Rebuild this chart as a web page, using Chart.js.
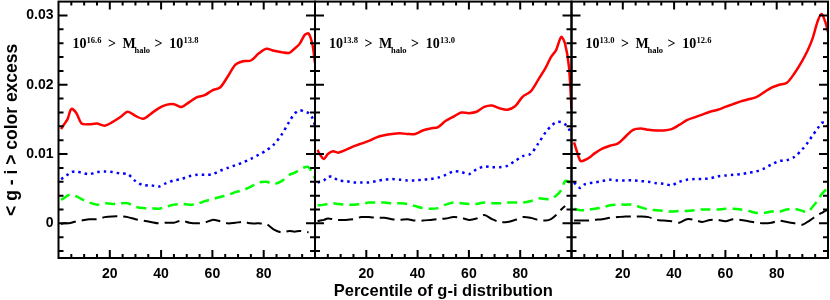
<!DOCTYPE html>
<html>
<head>
<meta charset="utf-8">
<script src="https://cdn.jsdelivr.net/npm/chart.js@4.4.1/dist/chart.umd.min.js"></script>
<style>
  html, body { margin: 0; padding: 0; background: #fff; }
  #wrap { position: relative; width: 830px; height: 300px; }
  #wrap canvas { position: absolute; left: 0; top: 0; }
</style>
</head>
<body>
<div id="wrap">
  <canvas id="panel1" width="830" height="300"></canvas>
  <canvas id="panel2" width="830" height="300"></canvas>
  <canvas id="panel3" width="830" height="300"></canvas>
</div>
<script>
// percentile grid shared by every curve
const pct = [1, 2, 3.5, 5, 7, 9, 12, 15, 18, 21, 24, 27, 30, 33, 36, 39, 42, 45, 48, 51,
  54, 57, 60, 63, 66, 69, 72, 75, 78, 81, 84, 87, 90, 92, 94, 96, 97.5, 99, 100];

const xTickLabels = [20, 40, 60, 80];
const yTickLabels = [0, 0.01, 0.02, 0.03];

// panel 1 : 10^16.6 > Mhalo > 10^13.8
const p1Red = [0.0136, 0.0142, 0.0150, 0.0165, 0.0159, 0.0144, 0.0143, 0.0144, 0.0141, 0.0146,
  0.0153, 0.0161, 0.0155, 0.0151, 0.0158, 0.0166, 0.0171, 0.0172, 0.0168, 0.0175,
  0.0182, 0.0185, 0.0192, 0.0196, 0.0212, 0.0229, 0.0234, 0.0235, 0.0245, 0.0252,
  0.0249, 0.0247, 0.0246, 0.0252, 0.0259, 0.0272, 0.0274, 0.0258, 0.0231];
const p1Blue = [0.0064, 0.0066, 0.0070, 0.0074, 0.0075, 0.0073, 0.0071, 0.0074, 0.0075, 0.0074,
  0.0072, 0.0071, 0.0061, 0.0055, 0.0055, 0.0053, 0.0058, 0.0062, 0.0064, 0.0068,
  0.0070, 0.0070, 0.0071, 0.0076, 0.0080, 0.0084, 0.0088, 0.0093, 0.0099, 0.0105,
  0.0114, 0.0128, 0.0147, 0.0158, 0.0163, 0.0161, 0.0159, 0.0152, 0.0141];
const p1Green = [0.0034, 0.0036, 0.0040, 0.0042, 0.0039, 0.0035, 0.0030, 0.0027, 0.0029, 0.0028,
  0.0029, 0.0029, 0.0024, 0.0022, 0.0022, 0.0021, 0.0024, 0.0027, 0.0028, 0.0027,
  0.0028, 0.0032, 0.0035, 0.0038, 0.0041, 0.0045, 0.0048, 0.0053, 0.0059, 0.0060,
  0.0057, 0.0061, 0.0070, 0.0073, 0.0077, 0.0081, 0.0081, 0.0072, 0.0065];
const p1Black = [-0.0001, 0.0000, 0.0000, 0.0001, 0.0003, 0.0004, 0.0006, 0.0006, 0.0009, 0.0010,
  0.0010, 0.0009, 0.0006, 0.0004, 0.0002, 0.0000, 0.0001, 0.0001, 0.0004, 0.0001,
  0.0000, 0.0001, 0.0005, 0.0003, 0.0000, 0.0001, 0.0002, 0.0000, 0.0000, -0.0001,
  -0.0009, -0.0013, -0.0011, -0.0012, -0.0011, -0.0012, -0.0013, null, null];

// panel 2 : 10^13.8 > Mhalo > 10^13.0
const p2Red = [0.0106, 0.0099, 0.0093, 0.0100, 0.0104, 0.0102, 0.0106, 0.0111, 0.0115, 0.0119,
  0.0124, 0.0127, 0.0129, 0.0130, 0.0129, 0.0129, 0.0134, 0.0137, 0.0139, 0.0148,
  0.0154, 0.0160, 0.0159, 0.0161, 0.0168, 0.0170, 0.0166, 0.0164, 0.0169, 0.0183,
  0.0190, 0.0207, 0.0225, 0.0240, 0.0250, 0.0269, 0.0259, 0.0226, 0.0165];
const p2Blue = [0.0059, 0.0060, 0.0062, 0.0067, 0.0067, 0.0062, 0.0061, 0.0059, 0.0059, 0.0059,
  0.0061, 0.0063, 0.0064, 0.0063, 0.0062, 0.0062, 0.0063, 0.0064, 0.0066, 0.0070,
  0.0075, 0.0074, 0.0071, 0.0078, 0.0082, 0.0081, 0.0081, 0.0083, 0.0090, 0.0097,
  0.0100, 0.0115, 0.0132, 0.0140, 0.0146, 0.0146, 0.0143, 0.0136, 0.0128];
const p2Green = [0.0026, 0.0026, 0.0027, 0.0028, 0.0029, 0.0028, 0.0027, 0.0027, 0.0028, 0.0030,
  0.0030, 0.0030, 0.0029, 0.0029, 0.0028, 0.0025, 0.0022, 0.0021, 0.0022, 0.0027,
  0.0030, 0.0029, 0.0028, 0.0028, 0.0030, 0.0029, 0.0029, 0.0030, 0.0030, 0.0030,
  0.0032, 0.0036, 0.0035, 0.0035, 0.0040, 0.0048, 0.0061, 0.0060, 0.0050];
const p2Black = [0.0003, 0.0004, 0.0005, 0.0007, 0.0006, 0.0005, 0.0005, 0.0006, 0.0009, 0.0009,
  0.0008, 0.0008, 0.0006, 0.0005, 0.0006, 0.0004, 0.0004, 0.0005, 0.0006, 0.0007,
  0.0009, 0.0008, 0.0005, 0.0007, 0.0012, 0.0006, 0.0002, 0.0002, 0.0005, 0.0009,
  0.0008, 0.0005, 0.0004, 0.0006, 0.0012, 0.0020, 0.0025, null, null];

// panel 3 : 10^13.0 > Mhalo > 10^12.6
const p3Red = [0.0117, 0.0105, 0.0090, 0.0091, 0.0095, 0.0101, 0.0108, 0.0112, 0.0115, 0.0125,
  0.0135, 0.0137, 0.0135, 0.0134, 0.0134, 0.0136, 0.0142, 0.0149, 0.0153, 0.0157,
  0.0161, 0.0164, 0.0168, 0.0172, 0.0176, 0.0179, 0.0182, 0.0189, 0.0196, 0.0200,
  0.0203, 0.0217, 0.0235, 0.0249, 0.0267, 0.0292, 0.0302, 0.0290, 0.0276];
const p3Blue = [0.0059, 0.0055, 0.0051, 0.0056, 0.0058, 0.0059, 0.0061, 0.0063, 0.0062, 0.0062,
  0.0062, 0.0061, 0.0060, 0.0058, 0.0057, 0.0055, 0.0060, 0.0063, 0.0064, 0.0064,
  0.0065, 0.0068, 0.0069, 0.0070, 0.0071, 0.0073, 0.0075, 0.0079, 0.0085, 0.0090,
  0.0091, 0.0096, 0.0107, 0.0116, 0.0127, 0.0137, 0.0145, 0.0145, 0.0140];
const p3Green = [0.0021, 0.0020, 0.0019, 0.0019, 0.0020, 0.0021, 0.0023, 0.0026, 0.0027, 0.0027,
  0.0027, 0.0023, 0.0020, 0.0019, 0.0018, 0.0017, 0.0018, 0.0018, 0.0019, 0.0020,
  0.0020, 0.0020, 0.0021, 0.0021, 0.0020, 0.0018, 0.0015, 0.0015, 0.0017, 0.0017,
  0.0020, 0.0021, 0.0018, 0.0016, 0.0024, 0.0033, 0.0042, 0.0048, 0.0052];
const p3Black = [0.0004, 0.0004, 0.0004, 0.0004, 0.0004, 0.0005, 0.0006, 0.0008, 0.0009, 0.0010,
  0.0010, 0.0010, 0.0009, 0.0005, 0.0004, 0.0003, 0.0001, 0.0006, 0.0005, 0.0002,
  0.0005, 0.0005, 0.0003, 0.0006, 0.0005, 0.0003, 0.0001, 0.0000, 0.0001, 0.0004,
  0.0002, 0.0000, -0.0002, 0.0002, 0.0007, 0.0012, 0.0015, 0.0018, 0.0019];

const AREA_TOP = 1.6;
const AREA_BOTTOM = 258;
const tickFont = { family: '"Liberation Sans", Arial, sans-serif', size: 14, weight: 'bold' };
const xTitleFont = { family: '"Liberation Sans", Arial, sans-serif', size: 16.5, weight: 'bold' };
const yTitleFont = { family: '"Liberation Sans", Arial, sans-serif', size: 17.5, weight: 'bold' };

function pts(vals) {
  return pct.map((p, i) => ({ x: p, y: vals[i] }));
}

// box around the plot with inward ticks on all four sides
const framePlugin = {
  id: 'frame',
  afterDatasetsDraw(chart) {
    const { ctx, chartArea: a, scales: { x, y } } = chart;
    ctx.save();
    ctx.strokeStyle = '#000';
    ctx.lineWidth = 2;
    ctx.strokeRect(a.left, a.top, a.right - a.left, a.bottom - a.top);
    ctx.beginPath();
    for (let i = -2; i <= 15; i++) {
      const py = y.getPixelForValue(i * 0.002);
      const len = i % 5 === 0 ? 9 : 5;
      ctx.moveTo(a.left, py); ctx.lineTo(a.left + len, py);
      ctx.moveTo(a.right, py); ctx.lineTo(a.right - len, py);
    }
    for (let i = 1; i <= 19; i++) {
      const v = i * 5;
      const px = x.getPixelForValue(v);
      const len = v % 20 === 0 ? 8 : 4;
      ctx.moveTo(px, a.bottom); ctx.lineTo(px, a.bottom - len);
      ctx.moveTo(px, a.top); ctx.lineTo(px, a.top + len);
    }
    ctx.stroke();
    ctx.restore();
  }
};

// "10^a > M_halo > 10^b" label in the upper left of each panel
const massPlugin = {
  id: 'massLabel',
  afterDraw(chart, args, opts) {
    const { ctx, chartArea: a } = chart;
    const x0 = a.left + 14;
    const base = 48.3;
    const big = 'bold 14px "Liberation Serif", "Times New Roman", serif';
    const small = 'bold 8.5px "Liberation Serif", "Times New Roman", serif';
    const parts = [
      ['10', big, 0, 0], [opts.hi, small, 14, -5.5], ['>', big, 35.4, 0],
      ['M', big, 50, 0], ['halo', small, 62, 4.5], ['>', big, 82, 0],
      ['10', big, 96.7, 0], [opts.lo, small, 111, -5.5]
    ];
    ctx.save();
    ctx.fillStyle = '#000';
    ctx.textBaseline = 'alphabetic';
    ctx.textAlign = 'left';
    parts.forEach(([t, f, dx, dy]) => {
      ctx.font = f;
      ctx.fillText(t, x0 + dx, base + dy);
    });
    ctx.restore();
  }
};

function makePanel(id, left, right, series, mass, first, middle) {
  const [red, blue, green, black] = series;
  return new Chart(document.getElementById(id), {
    type: 'line',
    data: {
      datasets: [
        { data: pts(black), borderColor: '#000000', borderWidth: 2, borderDash: [15, 6] },
        { data: pts(green), borderColor: '#00ff00', borderWidth: 2.5, borderDash: [10, 6] },
        { data: pts(blue), borderColor: '#0000ff', borderWidth: 2.5, borderDash: [2.5, 4] },
        { data: pts(red), borderColor: '#ff0000', borderWidth: 2.5 }
      ]
    },
    options: {
      responsive: false,
      animation: false,
      events: [],
      layout: { padding: { left: first ? 0 : left, right: 830 - right, top: AREA_TOP, bottom: 0 } },
      elements: { point: { radius: 0 }, line: { tension: 0.3, borderCapStyle: 'butt' } },
      plugins: {
        legend: { display: false },
        tooltip: { enabled: false },
        massLabel: mass
      },
      scales: {
        x: {
          type: 'linear', min: 0, max: 100,
          grid: { display: false, drawTicks: false },
          border: { display: false },
          ticks: { font: tickFont, color: '#000', padding: 8, maxRotation: 0 },
          afterBuildTicks: s => { s.ticks = xTickLabels.map(v => ({ value: v })); },
          afterFit: s => { s.height = 300 - AREA_BOTTOM; s.paddingLeft = 0; s.paddingRight = 0; },
          title: {
            display: middle, text: 'Percentile of g-i distribution',
            font: xTitleFont, color: '#000', padding: { top: 0, bottom: -1 }
          }
        },
        y: {
          display: first,
          min: -0.005, max: 0.032,
          grid: { display: false, drawTicks: false },
          border: { display: false },
          ticks: {
            font: tickFont, color: '#000', padding: 5,
            callback: v => (v === 0 ? '0' : v.toFixed(2))
          },
          afterBuildTicks: s => { s.ticks = yTickLabels.map(v => ({ value: v })); },
          afterFit: s => { s.width = first ? left : 0; s.paddingTop = 0; s.paddingBottom = 0; },
          title: {
            display: first, text: '< g - i > color excess',
            font: yTitleFont, color: '#000', padding: { top: 2, bottom: 0 }
          }
        }
      }
    },
    plugins: [framePlugin, massPlugin]
  });
}

makePanel('panel1', 58.5, 315, [p1Red, p1Blue, p1Green, p1Black], { hi: '16.6', lo: '13.8' }, true, false);
makePanel('panel2', 315, 571.5, [p2Red, p2Blue, p2Green, p2Black], { hi: '13.8', lo: '13.0' }, false, true);
makePanel('panel3', 571.5, 828, [p3Red, p3Blue, p3Green, p3Black], { hi: '13.0', lo: '12.6' }, false, false);
</script>
</body>
</html>
